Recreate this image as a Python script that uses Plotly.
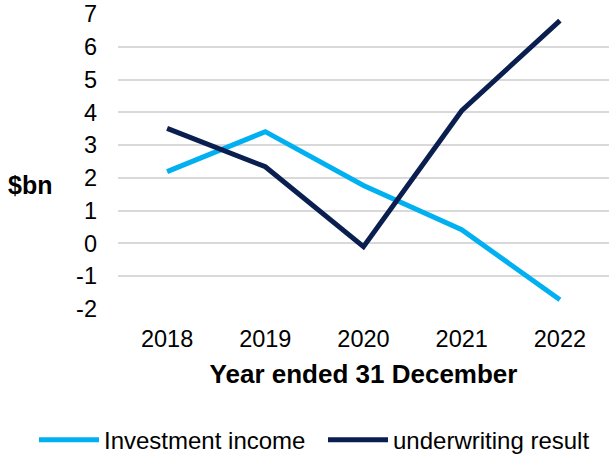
import plotly.graph_objects as go

# Data
years = ["2018", "2019", "2020", "2021", "2022"]
investment_income = [2.19, 3.41, 1.77, 0.42, -1.72]
underwriting_result = [3.51, 2.34, -0.1, 4.05, 6.8]

y_ticks = [-2, -1, 0, 1, 2, 3, 4, 5, 6, 7]
y_tick_labels = ["-2", "-1", "0", "1", "2", "3", "4", "5", "6", "7"]

LIGHT_BLUE = "#00B0F0"
NAVY = "#0A1E50"
FONT = "Liberation Sans, Arial, sans-serif"

fig = go.Figure()

fig.add_trace(go.Scatter(x=years, y=investment_income, mode="lines",
                         name="Investment income",
                         line=dict(color=LIGHT_BLUE, width=5)))
fig.add_trace(go.Scatter(x=years, y=underwriting_result, mode="lines",
                         name="underwriting result",
                         line=dict(color=NAVY, width=5)))

fig.update_xaxes(
    type="category",
    range=[-0.5, 4.5],
    automargin=False,
    showgrid=False,
    showline=False,
    ticks="",
    ticklabelstandoff=13,
    tickfont=dict(size=23.5, color="#000000"),
    title=dict(text="<b>Year ended 31 December</b>",
               font=dict(size=26, color="#000000"), standoff=14),
)

fig.update_yaxes(
    range=[-2, 7],
    automargin=False,
    tickvals=y_ticks,
    ticktext=y_tick_labels,
    showgrid=True,
    gridcolor="#D9D9D9",
    gridwidth=2,
    zeroline=False,
    showline=False,
    ticks="",
    ticklabelstandoff=20,
    tickfont=dict(size=23.5, color="#000000"),
)

# horizontal y-axis title
fig.add_annotation(text="<b>$bn</b>", xref="paper", yref="paper",
                   x=(30 - 118) / 491, y=(309 - 185) / 295,
                   xanchor="center", yanchor="middle",
                   showarrow=False, font=dict(size=25, color="#000000"))

fig.update_layout(
    width=609, height=456,
    margin=dict(l=118, r=0, t=14, b=147, autoexpand=False),
    plot_bgcolor="white",
    paper_bgcolor="white",
    font=dict(family=FONT, color="#000000"),
    showlegend=True,
    legend=dict(orientation="h", x=(34 - 118) / 491, xanchor="left",
                y=-0.368, yanchor="top",
                font=dict(size=24, color="#000000"),
                itemwidth=60, tracegroupgap=0,
                entrywidth=214, entrywidthmode="pixels"),
)

fig.write_html("out.html",
               config={"displayModeBar": False},
               post_script="document.body.style.margin='0';")
